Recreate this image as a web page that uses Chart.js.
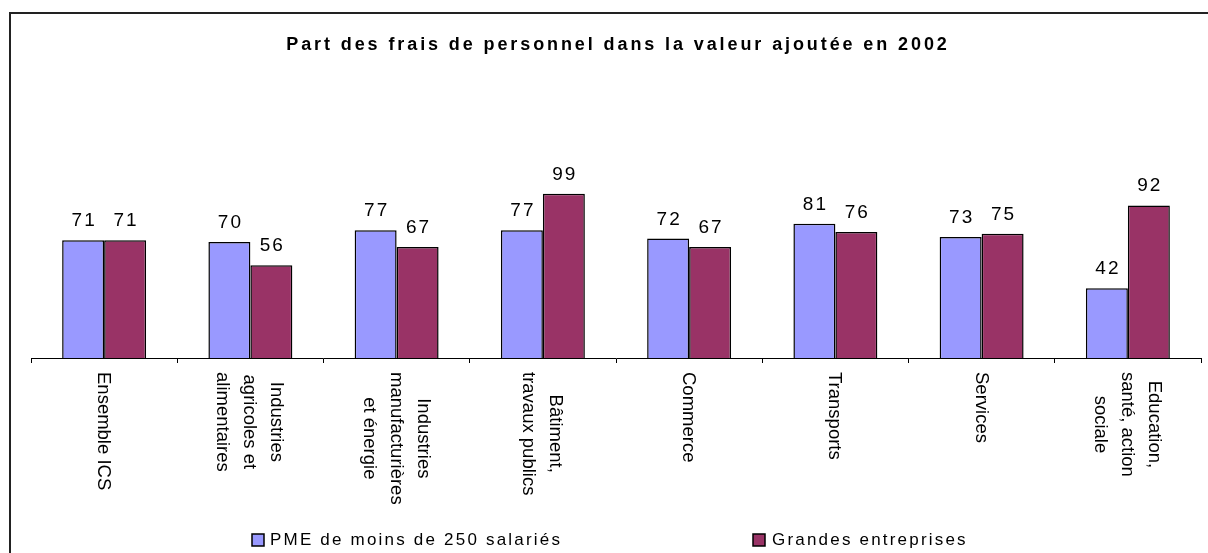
<!DOCTYPE html>
<html>
<head>
<meta charset="utf-8">
<script src="https://cdn.jsdelivr.net/npm/chart.js@4/dist/chart.umd.min.js"></script>
<style>
html,body{margin:0;padding:0;background:#fff;}
#wrap{position:relative;width:1208px;height:553px;}
</style>
</head>
<body>
<div id="wrap"><canvas id="c" width="1208" height="553"></canvas></div>
<script>
const title = "Part des frais de personnel dans la valeur ajoutée en 2002";
const categories = [
  ["Ensemble ICS"],
  ["Industries", "agricoles et", "alimentaires"],
  ["Industries", "manufacturières", "et énergie"],
  ["Bâtiment,", "travaux publics"],
  ["Commerce"],
  ["Transports"],
  ["Services"],
  ["Education,", "santé, action", "sociale"]
];
const seriesNames = ["PME de moins de 250 salariés", "Grandes entreprises"];
const pmeValues = [71, 70, 77, 77, 72, 81, 73, 42];
const grandesValues = [71, 56, 67, 99, 67, 76, 75, 92];
const colors = ["#9999FF", "#993366"];

const FONT = "'Liberation Sans', Arial, sans-serif";

const decorPlugin = {
  id: 'decor',
  beforeDraw(chart) {
    const ctx = chart.ctx;
    ctx.save();
    ctx.fillStyle = '#fff';
    ctx.fillRect(0, 0, chart.width, chart.height);
    ctx.strokeStyle = '#222';
    ctx.lineWidth = 2;
    ctx.strokeRect(10, 13, 1400, 700);
    // title
    ctx.fillStyle = '#000';
    ctx.font = 'bold 18px ' + FONT;
    ctx.letterSpacing = '2.9px';
    ctx.textAlign = 'center';
    ctx.textBaseline = 'middle';
    ctx.fillText(title, 616.5 + 1.5, 45);
    ctx.restore();
  },
  afterDatasetsDraw(chart) {
    const ctx = chart.ctx;
    ctx.save();
    // value labels
    ctx.fillStyle = '#000';
    ctx.font = '19px ' + FONT;
    ctx.letterSpacing = '2px';
    ctx.textAlign = 'center';
    ctx.textBaseline = 'alphabetic';
    chart.data.datasets.forEach((ds, di) => {
      const meta = chart.getDatasetMeta(di);
      meta.data.forEach((bar, i) => {
        ctx.fillText(String(ds.data[i]), bar.x + 1, bar.y - 14);
      });
    });
    // category labels rotated clockwise
    const xs = chart.scales.x;
    const bottom = chart.chartArea.bottom;
    ctx.font = '18.5px ' + FONT;
    ctx.letterSpacing = '0px';
    ctx.textBaseline = 'middle';
    ctx.textAlign = 'center';
    const lh = 27;
    categories.forEach((lines, i) => {
      const cx = xs.getPixelForValue(i) - 1;
      let maxW = 0;
      lines.forEach(l => { maxW = Math.max(maxW, ctx.measureText(l).width); });
      ctx.save();
      ctx.translate(cx, bottom + 14);
      ctx.rotate(Math.PI / 2);
      const n = lines.length;
      lines.forEach((l, k) => {
        const ly = (k - (n - 1) / 2) * lh;
        ctx.fillText(l, maxW / 2, ly);
      });
      ctx.restore();
    });
    // legend
    ctx.font = '17px ' + FONT;
    ctx.letterSpacing = '2.2px';
    ctx.textAlign = 'left';
    ctx.textBaseline = 'middle';
    const legendPos = [[252, 270], [753, 772]];
    seriesNames.forEach((name, k) => {
      const [mx, tx] = legendPos[k];
      ctx.fillStyle = colors[k];
      ctx.fillRect(mx, 534, 12, 12);
      ctx.strokeStyle = '#000';
      ctx.lineWidth = 1.5;
      ctx.strokeRect(mx, 534, 12, 12);
      ctx.fillStyle = '#000';
      ctx.fillText(name, tx, 540);
    });
    ctx.restore();
  }
};

new Chart(document.getElementById('c'), {
  type: 'bar',
  data: {
    labels: categories,
    datasets: [
      { label: seriesNames[0], data: pmeValues, backgroundColor: colors[0], borderColor: '#000', borderWidth: 1.5 },
      { label: seriesNames[1], data: grandesValues, backgroundColor: colors[1], borderColor: '#000', borderWidth: 1.5 }
    ]
  },
  options: {
    responsive: false,
    animation: false,
    devicePixelRatio: 1,
    layout: { padding: { left: 31, right: 7, top: 159, bottom: 0 } },
    datasets: { bar: { categoryPercentage: 0.574, barPercentage: 1 } },
    plugins: { legend: { display: false }, title: { display: false }, tooltip: { enabled: false } },
    scales: {
      x: {
        ticks: { display: false },
        grid: { display: true, drawOnChartArea: false, drawTicks: true, tickLength: 5, offset: true, color: '#000', tickWidth: 1 },
        border: { display: true, color: '#000', width: 1 },
        afterFit(s) { s.height = 195; }
      },
      y: { display: false, min: 0, max: 120 }
    }
  },
  plugins: [decorPlugin]
});
</script>
</body>
</html>
